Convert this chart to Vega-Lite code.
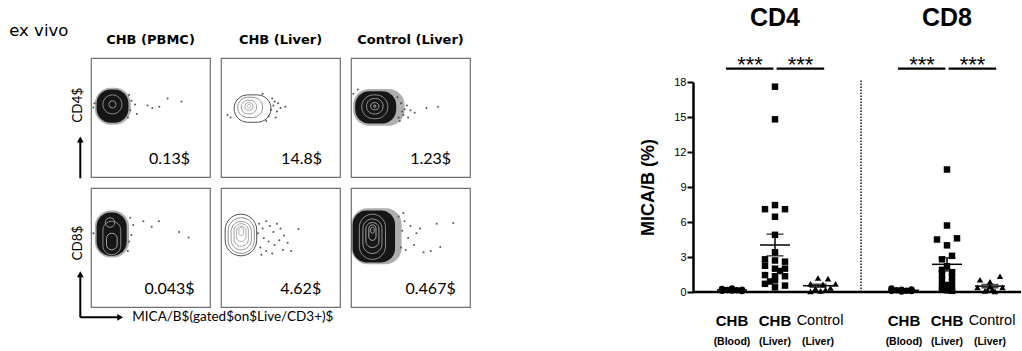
{
  "$schema": "https://vega.github.io/schema/vega-lite/v6.json",
  "padding": {"left": 8, "top": 6, "right": 0, "bottom": 0},
  "autosize": {"type": "pad"},
  "background": "white",
  "config": {
    "view": {"stroke": "#707070", "strokeWidth": 1.2},
    "axisY": {"titleFont": "Liberation Sans", "titleFontSize": 18, "titleFontWeight": "bold", "titleColor": "black", "titlePadding": 16,
      "labelFont": "Liberation Sans", "labelFontSize": 11, "labelColor": "black", "labelPadding": 1, "tickSize": 6, "tickWidth": 2,
      "tickColor": "black", "domainColor": "black", "domainWidth": 2.5, "grid": false}
  },
  "resolve": {"scale": {"shape": "independent", "stroke": "independent"}, "legend": {"shape": "independent", "stroke": "independent"}},
  "spacing": 168,
  "datasets": {
    "flow": [
      {"c": "CD4", "g": "CHB (PBMC)", "k": "panel", "x": 0.283},
      {"c": "CD4", "g": "CHB (Liver)", "k": "panel", "x": 0.30},
      {"c": "CD4", "g": "Control (Liver)", "k": "panel", "x": 0.324},
      {"c": "CD8", "g": "CHB (PBMC)", "k": "panel", "x": 0.283},
      {"c": "CD8", "g": "CHB (Liver)", "k": "panel", "x": 0.30},
      {"c": "CD8", "g": "Control (Liver)", "k": "panel", "x": 0.32},

      {"c": "CD4", "g": "CHB (PBMC)", "k": "pct", "x": 0.66, "y": 0.155, "t": "0.13$"},
      {"c": "CD4", "g": "CHB (Liver)", "k": "pct", "x": 0.677, "y": 0.155, "t": "14.8$"},
      {"c": "CD4", "g": "Control (Liver)", "k": "pct", "x": 0.669, "y": 0.155, "t": "1.23$"},
      {"c": "CD8", "g": "CHB (PBMC)", "k": "pct", "x": 0.66, "y": 0.15, "t": "0.043$"},
      {"c": "CD8", "g": "CHB (Liver)", "k": "pct", "x": 0.67, "y": 0.15, "t": "4.62$"},
      {"c": "CD8", "g": "Control (Liver)", "k": "pct", "x": 0.669, "y": 0.15, "t": "0.467$"},
      {"c": "CD4", "g": "CHB (PBMC)", "k": "ylab", "x": -0.107, "y": 0.603, "t": "CD4$"},
      {"c": "CD8", "g": "CHB (PBMC)", "k": "ylab", "x": -0.107, "y": 0.537, "t": "CD8$"},
      {"c": "CD4", "g": "CHB (PBMC)", "k": "note", "x": -0.687, "y": 1.189, "t": "ex vivo"},
      {"c": "CD8", "g": "CHB (PBMC)", "k": "xlab", "x": 0.347, "y": -0.087, "t": "MICA/B$(gated$on$Live/CD3+)$"},

      {"c": "CD4", "g": "CHB (PBMC)", "k": "halo", "x": 0.032, "x2": 0.335, "y": 0.44, "y2": 0.75},
      {"c": "CD4", "g": "Control (Liver)", "k": "halo", "x": 0.018, "x2": 0.45, "y": 0.43, "y2": 0.74},
      {"c": "CD8", "g": "CHB (PBMC)", "k": "halo", "x": 0.032, "x2": 0.32, "y": 0.415, "y2": 0.81},
      {"c": "CD8", "g": "Control (Liver)", "k": "halo", "x": 0.004, "x2": 0.425, "y": 0.36, "y2": 0.83},

      {"c": "CD4", "g": "CHB (PBMC)", "k": "mass", "x": 0.047, "x2": 0.315, "y": 0.455, "y2": 0.735},
      {"c": "CD4", "g": "Control (Liver)", "k": "mass", "x": 0.035, "x2": 0.38, "y": 0.45, "y2": 0.72},
      {"c": "CD8", "g": "CHB (PBMC)", "k": "mass", "x": 0.047, "x2": 0.30, "y": 0.43, "y2": 0.795},
      {"c": "CD8", "g": "Control (Liver)", "k": "mass", "x": 0.014, "x2": 0.37, "y": 0.375, "y2": 0.81},

      {"c": "CD4", "g": "CHB (PBMC)", "k": "ring", "lvl": 1, "x": 0.10, "x2": 0.26, "y": 0.53, "y2": 0.69},
      {"c": "CD4", "g": "CHB (PBMC)", "k": "ring", "lvl": 2, "x": 0.15, "x2": 0.21, "y": 0.58, "y2": 0.64},
      {"c": "CD4", "g": "CHB (Liver)", "k": "ring", "lvl": 0, "x": 0.11, "x2": 0.42, "y": 0.46, "y2": 0.69},
      {"c": "CD4", "g": "CHB (Liver)", "k": "ring", "lvl": 1, "x": 0.14, "x2": 0.35, "y": 0.50, "y2": 0.67},
      {"c": "CD4", "g": "CHB (Liver)", "k": "ring", "lvl": 2, "x": 0.17, "x2": 0.30, "y": 0.53, "y2": 0.645},
      {"c": "CD4", "g": "CHB (Liver)", "k": "ring", "lvl": 3, "x": 0.20, "x2": 0.27, "y": 0.56, "y2": 0.625},
      {"c": "CD4", "g": "CHB (Liver)", "k": "ring", "lvl": 4, "x": 0.22, "x2": 0.25, "y": 0.58, "y2": 0.61},
      {"c": "CD4", "g": "Control (Liver)", "k": "ring", "lvl": 1, "x": 0.09, "x2": 0.31, "y": 0.49, "y2": 0.69},
      {"c": "CD4", "g": "Control (Liver)", "k": "ring", "lvl": 2, "x": 0.13, "x2": 0.27, "y": 0.53, "y2": 0.66},
      {"c": "CD4", "g": "Control (Liver)", "k": "ring", "lvl": 3, "x": 0.165, "x2": 0.235, "y": 0.565, "y2": 0.625},
      {"c": "CD4", "g": "Control (Liver)", "k": "ring", "lvl": 4, "x": 0.19, "x2": 0.21, "y": 0.585, "y2": 0.605},
      {"c": "CD8", "g": "CHB (PBMC)", "k": "ring", "lvl": 1, "x": 0.10, "x2": 0.25, "y": 0.44, "y2": 0.72},
      {"c": "CD8", "g": "CHB (PBMC)", "k": "ring", "lvl": 2, "x": 0.12, "x2": 0.20, "y": 0.67, "y2": 0.75},
      {"c": "CD8", "g": "CHB (PBMC)", "k": "ring", "lvl": 3, "x": 0.13, "x2": 0.22, "y": 0.48, "y2": 0.62},
      {"c": "CD8", "g": "CHB (Liver)", "k": "ring", "lvl": 0, "x": 0.035, "x2": 0.30, "y": 0.43, "y2": 0.78},
      {"c": "CD8", "g": "CHB (Liver)", "k": "ring", "lvl": 1, "x": 0.06, "x2": 0.28, "y": 0.45, "y2": 0.75},
      {"c": "CD8", "g": "CHB (Liver)", "k": "ring", "lvl": 2, "x": 0.085, "x2": 0.255, "y": 0.48, "y2": 0.72},
      {"c": "CD8", "g": "CHB (Liver)", "k": "ring", "lvl": 3, "x": 0.11, "x2": 0.23, "y": 0.51, "y2": 0.70},
      {"c": "CD8", "g": "CHB (Liver)", "k": "ring", "lvl": 4, "x": 0.13, "x2": 0.21, "y": 0.55, "y2": 0.68},
      {"c": "CD8", "g": "CHB (Liver)", "k": "ring", "lvl": 4, "x": 0.15, "x2": 0.19, "y": 0.60, "y2": 0.67},
      {"c": "CD8", "g": "Control (Liver)", "k": "ring", "lvl": 1, "x": 0.07, "x2": 0.29, "y": 0.40, "y2": 0.78},
      {"c": "CD8", "g": "Control (Liver)", "k": "ring", "lvl": 2, "x": 0.10, "x2": 0.26, "y": 0.45, "y2": 0.74},
      {"c": "CD8", "g": "Control (Liver)", "k": "ring", "lvl": 3, "x": 0.125, "x2": 0.235, "y": 0.50, "y2": 0.71},
      {"c": "CD8", "g": "Control (Liver)", "k": "ring", "lvl": 4, "x": 0.15, "x2": 0.21, "y": 0.56, "y2": 0.69},
      {"c": "CD8", "g": "Control (Liver)", "k": "ring", "lvl": 4, "x": 0.165, "x2": 0.195, "y": 0.62, "y2": 0.67},

      {"c": "CD4", "g": "CHB (PBMC)", "k": "ev", "x": 0.37, "y": 0.61},
      {"c": "CD4", "g": "CHB (PBMC)", "k": "ev", "x": 0.475, "y": 0.60},
      {"c": "CD4", "g": "CHB (PBMC)", "k": "ev", "x": 0.515, "y": 0.58},
      {"c": "CD4", "g": "CHB (PBMC)", "k": "ev", "x": 0.574, "y": 0.59},
      {"c": "CD4", "g": "CHB (PBMC)", "k": "ev", "x": 0.644, "y": 0.66},
      {"c": "CD4", "g": "CHB (PBMC)", "k": "ev", "x": 0.76, "y": 0.635},
      {"c": "CD4", "g": "CHB (PBMC)", "k": "ev", "x": 0.31, "y": 0.50},
      {"c": "CD4", "g": "CHB (PBMC)", "k": "ev", "x": 0.02, "y": 0.585},
      {"c": "CD4", "g": "CHB (PBMC)", "k": "ev", "x": 0.385, "y": 0.53},
      {"c": "CD4", "g": "CHB (PBMC)", "k": "ev", "x": 0.33, "y": 0.56},
      {"c": "CD4", "g": "CHB (PBMC)", "k": "ev", "x": 0.34, "y": 0.64},
      {"c": "CD4", "g": "CHB (PBMC)", "k": "ev", "x": 0.32, "y": 0.69},
      {"c": "CD4", "g": "CHB (PBMC)", "k": "ev", "x": 0.03, "y": 0.62},

      {"c": "CD4", "g": "CHB (Liver)", "k": "ev", "x": 0.45, "y": 0.635},
      {"c": "CD4", "g": "CHB (Liver)", "k": "ev", "x": 0.50, "y": 0.58},
      {"c": "CD4", "g": "CHB (Liver)", "k": "ev", "x": 0.54, "y": 0.59},
      {"c": "CD4", "g": "CHB (Liver)", "k": "ev", "x": 0.42, "y": 0.565},
      {"c": "CD4", "g": "CHB (Liver)", "k": "ev", "x": 0.40, "y": 0.51},
      {"c": "CD4", "g": "CHB (Liver)", "k": "ev", "x": 0.055, "y": 0.52},
      {"c": "CD4", "g": "CHB (Liver)", "k": "ev", "x": 0.44, "y": 0.60},
      {"c": "CD4", "g": "CHB (Liver)", "k": "ev", "x": 0.47, "y": 0.55},
      {"c": "CD4", "g": "CHB (Liver)", "k": "ev", "x": 0.43, "y": 0.66},
      {"c": "CD4", "g": "CHB (Liver)", "k": "ev", "x": 0.48, "y": 0.62},
      {"c": "CD4", "g": "CHB (Liver)", "k": "ev", "x": 0.38, "y": 0.47},
      {"c": "CD4", "g": "CHB (Liver)", "k": "ev", "x": 0.08, "y": 0.50},
      {"c": "CD4", "g": "CHB (Liver)", "k": "ev", "x": 0.35, "y": 0.70},
      {"c": "CD4", "g": "CHB (Liver)", "k": "ev", "x": 0.46, "y": 0.50},

      {"c": "CD4", "g": "Control (Liver)", "k": "ev", "x": 0.634, "y": 0.58},
      {"c": "CD4", "g": "Control (Liver)", "k": "ev", "x": 0.73, "y": 0.59},
      {"c": "CD4", "g": "Control (Liver)", "k": "ev", "x": 0.535, "y": 0.54},
      {"c": "CD4", "g": "Control (Liver)", "k": "ev", "x": 0.48, "y": 0.50},
      {"c": "CD4", "g": "Control (Liver)", "k": "ev", "x": 0.057, "y": 0.735},
      {"c": "CD4", "g": "Control (Liver)", "k": "ev", "x": 0.42, "y": 0.62},
      {"c": "CD4", "g": "Control (Liver)", "k": "ev", "x": 0.45, "y": 0.57},
      {"c": "CD4", "g": "Control (Liver)", "k": "ev", "x": 0.40, "y": 0.50},
      {"c": "CD4", "g": "Control (Liver)", "k": "ev", "x": 0.44, "y": 0.52},
      {"c": "CD4", "g": "Control (Liver)", "k": "ev", "x": 0.50, "y": 0.56},
      {"c": "CD4", "g": "Control (Liver)", "k": "ev", "x": 0.39, "y": 0.67},
      {"c": "CD4", "g": "Control (Liver)", "k": "ev", "x": 0.02, "y": 0.70},
      {"c": "CD4", "g": "Control (Liver)", "k": "ev", "x": 0.47, "y": 0.60},
      {"c": "CD4", "g": "Control (Liver)", "k": "ev", "x": 0.41, "y": 0.47},
      {"c": "CD4", "g": "Control (Liver)", "k": "ev", "x": 0.43, "y": 0.55},

      {"c": "CD8", "g": "CHB (PBMC)", "k": "ev", "x": 0.44, "y": 0.72},
      {"c": "CD8", "g": "CHB (PBMC)", "k": "ev", "x": 0.51, "y": 0.675},
      {"c": "CD8", "g": "CHB (PBMC)", "k": "ev", "x": 0.57, "y": 0.72},
      {"c": "CD8", "g": "CHB (PBMC)", "k": "ev", "x": 0.74, "y": 0.63},
      {"c": "CD8", "g": "CHB (PBMC)", "k": "ev", "x": 0.82, "y": 0.585},
      {"c": "CD8", "g": "CHB (PBMC)", "k": "ev", "x": 0.355, "y": 0.69},
      {"c": "CD8", "g": "CHB (PBMC)", "k": "ev", "x": 0.34, "y": 0.605},
      {"c": "CD8", "g": "CHB (PBMC)", "k": "ev", "x": 0.32, "y": 0.55},
      {"c": "CD8", "g": "CHB (PBMC)", "k": "ev", "x": 0.33, "y": 0.75},
      {"c": "CD8", "g": "CHB (PBMC)", "k": "ev", "x": 0.31, "y": 0.47},
      {"c": "CD8", "g": "CHB (PBMC)", "k": "ev", "x": 0.02, "y": 0.62},

      {"c": "CD8", "g": "CHB (Liver)", "k": "ev", "x": 0.32, "y": 0.70},
      {"c": "CD8", "g": "CHB (Liver)", "k": "ev", "x": 0.35, "y": 0.66},
      {"c": "CD8", "g": "CHB (Liver)", "k": "ev", "x": 0.38, "y": 0.72},
      {"c": "CD8", "g": "CHB (Liver)", "k": "ev", "x": 0.41, "y": 0.68},
      {"c": "CD8", "g": "CHB (Liver)", "k": "ev", "x": 0.44, "y": 0.63},
      {"c": "CD8", "g": "CHB (Liver)", "k": "ev", "x": 0.47, "y": 0.70},
      {"c": "CD8", "g": "CHB (Liver)", "k": "ev", "x": 0.50, "y": 0.66},
      {"c": "CD8", "g": "CHB (Liver)", "k": "ev", "x": 0.53, "y": 0.60},
      {"c": "CD8", "g": "CHB (Liver)", "k": "ev", "x": 0.36, "y": 0.58},
      {"c": "CD8", "g": "CHB (Liver)", "k": "ev", "x": 0.40, "y": 0.55},
      {"c": "CD8", "g": "CHB (Liver)", "k": "ev", "x": 0.45, "y": 0.52},
      {"c": "CD8", "g": "CHB (Liver)", "k": "ev", "x": 0.49, "y": 0.56},
      {"c": "CD8", "g": "CHB (Liver)", "k": "ev", "x": 0.33, "y": 0.50},
      {"c": "CD8", "g": "CHB (Liver)", "k": "ev", "x": 0.38, "y": 0.47},
      {"c": "CD8", "g": "CHB (Liver)", "k": "ev", "x": 0.43, "y": 0.45},
      {"c": "CD8", "g": "CHB (Liver)", "k": "ev", "x": 0.52, "y": 0.48},
      {"c": "CD8", "g": "CHB (Liver)", "k": "ev", "x": 0.65, "y": 0.655},
      {"c": "CD8", "g": "CHB (Liver)", "k": "ev", "x": 0.59, "y": 0.47},
      {"c": "CD8", "g": "CHB (Liver)", "k": "ev", "x": 0.56, "y": 0.54},
      {"c": "CD8", "g": "CHB (Liver)", "k": "ev", "x": 0.31, "y": 0.62},
      {"c": "CD8", "g": "CHB (Liver)", "k": "ev", "x": 0.34, "y": 0.44},

      {"c": "CD8", "g": "Control (Liver)", "k": "ev", "x": 0.72, "y": 0.70},
      {"c": "CD8", "g": "Control (Liver)", "k": "ev", "x": 0.86, "y": 0.705},
      {"c": "CD8", "g": "Control (Liver)", "k": "ev", "x": 0.75, "y": 0.505},
      {"c": "CD8", "g": "Control (Liver)", "k": "ev", "x": 0.67, "y": 0.47},
      {"c": "CD8", "g": "Control (Liver)", "k": "ev", "x": 0.61, "y": 0.46},
      {"c": "CD8", "g": "Control (Liver)", "k": "ev", "x": 0.45, "y": 0.72},
      {"c": "CD8", "g": "Control (Liver)", "k": "ev", "x": 0.50, "y": 0.68},
      {"c": "CD8", "g": "Control (Liver)", "k": "ev", "x": 0.55, "y": 0.62},
      {"c": "CD8", "g": "Control (Liver)", "k": "ev", "x": 0.48, "y": 0.58},
      {"c": "CD8", "g": "Control (Liver)", "k": "ev", "x": 0.43, "y": 0.64},
      {"c": "CD8", "g": "Control (Liver)", "k": "ev", "x": 0.53, "y": 0.52},
      {"c": "CD8", "g": "Control (Liver)", "k": "ev", "x": 0.58, "y": 0.66},
      {"c": "CD8", "g": "Control (Liver)", "k": "ev", "x": 0.42, "y": 0.50},
      {"c": "CD8", "g": "Control (Liver)", "k": "ev", "x": 0.46, "y": 0.48},
      {"c": "CD8", "g": "Control (Liver)", "k": "ev", "x": 0.40, "y": 0.76},
      {"c": "CD8", "g": "Control (Liver)", "k": "ev", "x": 0.44, "y": 0.79},

      {"c": "CD4", "g": "CHB (PBMC)", "k": "arrow", "x": -0.09, "y": -0.011, "x2": -0.09, "y2": 0.32},
      {"c": "CD8", "g": "CHB (PBMC)", "k": "arrow", "x": -0.09, "y": -0.087, "x2": -0.09, "y2": 0.28},
      {"c": "CD8", "g": "CHB (PBMC)", "k": "arrow", "x": -0.09, "y": -0.087, "x2": 0.25, "y2": -0.087},
      {"c": "CD4", "g": "CHB (PBMC)", "k": "head", "x": -0.09, "y": 0.315, "dir": "up"},
      {"c": "CD8", "g": "CHB (PBMC)", "k": "head", "x": -0.09, "y": 0.275, "dir": "up"},
      {"c": "CD8", "g": "CHB (PBMC)", "k": "head", "x": 0.245, "y": -0.087, "dir": "right"}
    ],
    "mica": [
      {"set": "CD4 Blood", "v": 0.25, "lane": -2},
      {"set": "CD4 Blood", "v": 0.1, "lane": -2},
      {"set": "CD4 Blood", "v": 0.3, "lane": 0},
      {"set": "CD4 Blood", "v": 0.12, "lane": 0},
      {"set": "CD4 Blood", "v": 0.2, "lane": 2},
      {"set": "CD4 Blood", "v": 0.08, "lane": 2},
      {"set": "CD4 Blood", "v": 0.18, "lane": -1},
      {"set": "CD4 Blood", "v": 0.15, "lane": 1},
      {"set": "CD4 Liver", "v": 17.6, "lane": 0},
      {"set": "CD4 Liver", "v": 14.8, "lane": 0},
      {"set": "CD4 Liver", "v": 7.1, "lane": -2},
      {"set": "CD4 Liver", "v": 7.45, "lane": 0},
      {"set": "CD4 Liver", "v": 7.1, "lane": 2},
      {"set": "CD4 Liver", "v": 6.45, "lane": 0},
      {"set": "CD4 Liver", "v": 4.9, "lane": 0},
      {"set": "CD4 Liver", "v": 3.4, "lane": 0},
      {"set": "CD4 Liver", "v": 2.8, "lane": -2},
      {"set": "CD4 Liver", "v": 2.7, "lane": 0},
      {"set": "CD4 Liver", "v": 2.6, "lane": 2},
      {"set": "CD4 Liver", "v": 2.25, "lane": -2},
      {"set": "CD4 Liver", "v": 2.0, "lane": 0},
      {"set": "CD4 Liver", "v": 2.0, "lane": 2},
      {"set": "CD4 Liver", "v": 1.45, "lane": -2},
      {"set": "CD4 Liver", "v": 1.35, "lane": 0},
      {"set": "CD4 Liver", "v": 1.35, "lane": 2},
      {"set": "CD4 Liver", "v": 1.0, "lane": 0},
      {"set": "CD4 Liver", "v": 0.7, "lane": -2},
      {"set": "CD4 Liver", "v": 0.4, "lane": 0},
      {"set": "CD4 Liver", "v": 0.55, "lane": 2},
      {"set": "CD4 Liver", "v": 0.9, "lane": -1},
      {"set": "CD4 Liver", "v": 1.8, "lane": 1},
      {"set": "CD4 Control", "v": 1.2, "lane": 0},
      {"set": "CD4 Control", "v": 1.15, "lane": 2},
      {"set": "CD4 Control", "v": 0.7, "lane": -1.5},
      {"set": "CD4 Control", "v": 0.65, "lane": 1},
      {"set": "CD4 Control", "v": 0.7, "lane": 3.5},
      {"set": "CD4 Control", "v": 0.3, "lane": -0.5},
      {"set": "CD4 Control", "v": 0.1, "lane": 0.5},
      {"set": "CD4 Control", "v": 0.2, "lane": 1.5},
      {"set": "CD4 Control", "v": 0.35, "lane": 2.5},
      {"set": "CD4 Control", "v": 0.05, "lane": -1.5},
      {"set": "CD8 Blood", "v": 0.3, "lane": -2.5},
      {"set": "CD8 Blood", "v": 0.1, "lane": -2.5},
      {"set": "CD8 Blood", "v": 0.15, "lane": -1.5},
      {"set": "CD8 Blood", "v": 0.2, "lane": -0.5},
      {"set": "CD8 Blood", "v": 0.05, "lane": -0.5},
      {"set": "CD8 Blood", "v": 0.1, "lane": 0.5},
      {"set": "CD8 Blood", "v": 0.22, "lane": 1.5},
      {"set": "CD8 Blood", "v": 0.08, "lane": 1.5},
      {"set": "CD8 Liver", "v": 10.5, "lane": 0},
      {"set": "CD8 Liver", "v": 5.7, "lane": 0},
      {"set": "CD8 Liver", "v": 4.5, "lane": -2},
      {"set": "CD8 Liver", "v": 4.6, "lane": 2},
      {"set": "CD8 Liver", "v": 4.0, "lane": 0},
      {"set": "CD8 Liver", "v": 3.1, "lane": 1},
      {"set": "CD8 Liver", "v": 2.8, "lane": -1},
      {"set": "CD8 Liver", "v": 2.2, "lane": 0},
      {"set": "CD8 Liver", "v": 1.9, "lane": -1},
      {"set": "CD8 Liver", "v": 1.7, "lane": 1},
      {"set": "CD8 Liver", "v": 1.5, "lane": -1},
      {"set": "CD8 Liver", "v": 1.3, "lane": 1},
      {"set": "CD8 Liver", "v": 1.0, "lane": -1},
      {"set": "CD8 Liver", "v": 0.8, "lane": 1},
      {"set": "CD8 Liver", "v": 0.6, "lane": 0},
      {"set": "CD8 Liver", "v": 0.5, "lane": -1},
      {"set": "CD8 Liver", "v": 0.3, "lane": 1},
      {"set": "CD8 Liver", "v": 0.2, "lane": -1},
      {"set": "CD8 Liver", "v": 0.15, "lane": 0},
      {"set": "CD8 Liver", "v": 0.1, "lane": 1},
      {"set": "CD8 Control", "v": 1.05, "lane": -2},
      {"set": "CD8 Control", "v": 0.88, "lane": 0},
      {"set": "CD8 Control", "v": 1.35, "lane": 2},
      {"set": "CD8 Control", "v": 0.4, "lane": -2.5},
      {"set": "CD8 Control", "v": 0.4, "lane": 2.5},
      {"set": "CD8 Control", "v": 0.45, "lane": 0},
      {"set": "CD8 Control", "v": 0.1, "lane": -1},
      {"set": "CD8 Control", "v": 0.05, "lane": 1},
      {"set": "CD8 Control", "v": 0.2, "lane": 0.5},
      {"set": "CD8 Control", "v": 0.15, "lane": -0.5}
    ],
    "sets": [
      {"set": "CD4 Blood", "l1": "CHB", "l2": "(Blood)"},
      {"set": "CD4 Liver", "l1": "CHB", "l2": "(Liver)"},
      {"set": "CD4 Control", "l1": "Control", "l2": "(Liver)"},
      {"set": "CD8 Blood", "l1": "CHB", "l2": "(Blood)"},
      {"set": "CD8 Liver", "l1": "CHB", "l2": "(Liver)"},
      {"set": "CD8 Control", "l1": "Control", "l2": "(Liver)"}
    ]
  },
  "hconcat": [
    {
      "data": {"name": "flow"},
      "facet": {
        "row": {"field": "c", "type": "nominal", "sort": ["CD4", "CD8"], "header": null},
        "column": {"field": "g", "type": "nominal", "sort": ["CHB (PBMC)", "CHB (Liver)", "Control (Liver)"], "title": null,
          "header": {"labelFont": "DejaVu Sans", "labelFontWeight": "bold", "labelFontSize": 13, "labelColor": "black", "labelPadding": 11}}
      },
      "spacing": {"row": 11, "column": 11},
      "bounds": "flush",
      "spec": {
        "width": 119,
        "height": 119,
        "encoding": {
          "x": {"field": "x", "type": "quantitative", "scale": {"domain": [0, 1], "nice": false, "zero": false}, "axis": null},
          "y": {"field": "y", "type": "quantitative", "scale": {"domain": [0, 1], "nice": false, "zero": false}, "axis": null}
        },
        "layer": [
          {"transform": [{"filter": "datum.k == 'halo'"}],
           "mark": {"type": "rect", "color": "#161616", "opacity": 0.35, "cornerRadius": 16},
           "encoding": {"x2": {"field": "x2"}, "y2": {"field": "y2"}}},
          {"transform": [{"filter": "datum.k == 'mass'"}],
           "mark": {"type": "rect", "color": "#161616", "cornerRadius": 14},
           "encoding": {"x2": {"field": "x2"}, "y2": {"field": "y2"}}},
          {"transform": [{"filter": "datum.k == 'ring'"}],
           "mark": {"type": "rect", "fill": "white", "fillOpacity": 0, "strokeWidth": 1, "cornerRadius": 40},
           "encoding": {"x2": {"field": "x2"}, "y2": {"field": "y2"},
             "stroke": {"field": "lvl", "type": "ordinal", "scale": {"domain": [0, 1, 2, 3, 4], "range": ["#505050", "#8c8c8c", "#999999", "#a3a3a3", "#adadad"]}, "legend": null}}},
          {"transform": [{"filter": "datum.k == 'ev'"}],
           "mark": {"type": "circle", "size": 4, "color": "#444444", "opacity": 0.9}},
          {"transform": [{"filter": "datum.k == 'panel'"}],
           "mark": {"type": "rect", "fill": "white", "fillOpacity": 0, "stroke": "#b0b0b0", "strokeWidth": 2},
           "encoding": {"x2": {"datum": 0.969}, "y": {"datum": 0.04}, "y2": {"datum": 0.972}}},
          {"transform": [{"filter": "datum.k == 'pct'"}],
           "mark": {"type": "text", "font": "Lato", "fontSize": 16, "color": "black"},
           "encoding": {"text": {"field": "t", "type": "nominal"}}},
          {"transform": [{"filter": "datum.k == 'ylab'"}],
           "mark": {"type": "text", "angle": 270, "font": "Lato", "fontSize": 13.5, "baseline": "middle", "color": "black"},
           "encoding": {"text": {"field": "t", "type": "nominal"}}},
          {"transform": [{"filter": "datum.k == 'note'"}],
           "mark": {"type": "text", "font": "DejaVu Sans", "fontSize": 16.5, "align": "left", "baseline": "alphabetic", "color": "black"},
           "encoding": {"text": {"field": "t", "type": "nominal"}}},
          {"transform": [{"filter": "datum.k == 'xlab'"}],
           "mark": {"type": "text", "font": "Lato", "fontSize": 13.5, "align": "left", "baseline": "middle", "color": "black"},
           "encoding": {"text": {"field": "t", "type": "nominal"}}},
          {"transform": [{"filter": "datum.k == 'arrow'"}],
           "mark": {"type": "rule", "strokeWidth": 2, "color": "black"},
           "encoding": {"x2": {"field": "x2"}, "y2": {"field": "y2"}}},
          {"transform": [{"filter": "datum.k == 'head'"}],
           "mark": {"type": "point", "filled": true, "color": "black", "size": 45, "opacity": 1},
           "encoding": {"shape": {"field": "dir", "type": "nominal", "scale": {"domain": ["up", "right"], "range": ["triangle-up", "triangle-right"]}, "legend": null}}}
        ]
      }
    },
    {
      "width": 328,
      "height": 234,
      "view": {"stroke": null},
      "layer": [
        {"data": {"values": [{"set": "gap"}]},
         "mark": {"type": "rule", "strokeDash": [1.5, 1.5], "strokeWidth": 1.4, "color": "black"},
         "encoding": {
           "x": {"field": "set", "type": "nominal", "scale": {"type": "point", "padding": 0, "domain": ["CD4 Blood", "CD4 Liver", "CD4 Control", "gap", "CD8 Blood", "CD8 Liver", "CD8 Control"], "range": [39, 297]}, "axis": null},
           "y": {"datum": 0, "type": "quantitative", "axis": {"values": [0, 3, 6, 9, 12, 15, 18], "title": "MICA/B (%)"}}, "y2": {"datum": 18.15}}},
        {"data": {"values": [{}]},
         "mark": {"type": "rule", "strokeWidth": 2.5, "color": "black"},
         "encoding": {"y": {"datum": 0, "type": "quantitative", "axis": {"values": [0, 3, 6, 9, 12, 15, 18], "title": "MICA/B (%)"}}}},
        {"data": {"name": "mica"},
         "mark": {"type": "point", "filled": true, "opacity": 1, "color": "black", "size": 42},
         "encoding": {
           "x": {"field": "set", "type": "nominal", "scale": {"type": "point", "padding": 0, "domain": ["CD4 Blood", "CD4 Liver", "CD4 Control", "gap", "CD8 Blood", "CD8 Liver", "CD8 Control"], "range": [39, 297]}, "axis": null},
           "xOffset": {"field": "lane", "type": "quantitative", "scale": {"domain": [-2, 2], "range": [-10, 10]}},
           "y": {"field": "v", "type": "quantitative", "scale": {"domain": [0, 18], "nice": false, "range": [234, 24]}, "axis": {"values": [0, 3, 6, 9, 12, 15, 18], "title": "MICA/B (%)"}},
           "shape": {"field": "set", "type": "nominal", "scale": {"domain": ["CD4 Blood", "CD4 Liver", "CD4 Control", "CD8 Blood", "CD8 Liver", "CD8 Control"], "range": ["circle", "square", "triangle-up", "circle", "square", "triangle-up"]}, "legend": null}
         }},
        {"data": {"name": "mica"},
         "mark": {"type": "errorbar", "extent": "stderr", "color": "black", "thickness": 1.5, "ticks": {"size": 17, "thickness": 1.5, "color": "black"}},
         "encoding": {
           "x": {"field": "set", "type": "nominal", "scale": {"type": "point", "padding": 0, "domain": ["CD4 Blood", "CD4 Liver", "CD4 Control", "gap", "CD8 Blood", "CD8 Liver", "CD8 Control"], "range": [39, 297]}, "axis": null},
           "y": {"field": "v", "type": "quantitative", "axis": {"values": [0, 3, 6, 9, 12, 15, 18], "title": "MICA/B (%)"}}}},
        {"data": {"name": "mica"},
         "mark": {"type": "tick", "color": "black", "thickness": 1.5, "size": 30},
         "encoding": {
           "x": {"field": "set", "type": "nominal", "scale": {"type": "point", "padding": 0, "domain": ["CD4 Blood", "CD4 Liver", "CD4 Control", "gap", "CD8 Blood", "CD8 Liver", "CD8 Control"], "range": [39, 297]}, "axis": null},
           "y": {"aggregate": "mean", "field": "v", "type": "quantitative", "axis": {"values": [0, 3, 6, 9, 12, 15, 18], "title": "MICA/B (%)"}}}},
        {"data": {"values": [{"set": "CD4 Liver", "t": "CD4"}, {"set": "CD8 Liver", "t": "CD8"}]},
         "mark": {"type": "text", "font": "Liberation Sans", "fontSize": 25, "fontWeight": "bold", "baseline": "middle", "color": "black"},
         "encoding": {
           "x": {"field": "set", "type": "nominal", "scale": {"type": "point", "padding": 0, "domain": ["CD4 Blood", "CD4 Liver", "CD4 Control", "gap", "CD8 Blood", "CD8 Liver", "CD8 Control"], "range": [39, 297]}, "axis": null},
           "y": {"datum": 23.47, "axis": {"values": [0, 3, 6, 9, 12, 15, 18], "title": "MICA/B (%)"}}, "text": {"field": "t"}}},
        {"data": {"values": [{"a": "CD4 Blood", "b": "CD4 Liver"}, {"a": "CD8 Blood", "b": "CD8 Liver"}]},
         "mark": {"type": "rule", "strokeWidth": 2.2, "color": "black", "xOffset": -6, "x2Offset": -1.6},
         "encoding": {
           "x": {"field": "a", "type": "nominal", "scale": {"type": "point", "padding": 0, "domain": ["CD4 Blood", "CD4 Liver", "CD4 Control", "gap", "CD8 Blood", "CD8 Liver", "CD8 Control"], "range": [39, 297]}, "axis": null},
           "x2": {"field": "b"}, "y": {"datum": 19.15, "axis": {"values": [0, 3, 6, 9, 12, 15, 18], "title": "MICA/B (%)"}}}},
        {"data": {"values": [{"a": "CD4 Liver", "b": "CD4 Control"}, {"a": "CD8 Liver", "b": "CD8 Control"}]},
         "mark": {"type": "rule", "strokeWidth": 2.2, "color": "black", "xOffset": 1.6, "x2Offset": 6.2},
         "encoding": {
           "x": {"field": "a", "type": "nominal", "scale": {"type": "point", "padding": 0, "domain": ["CD4 Blood", "CD4 Liver", "CD4 Control", "gap", "CD8 Blood", "CD8 Liver", "CD8 Control"], "range": [39, 297]}, "axis": null},
           "x2": {"field": "b"}, "y": {"datum": 19.15, "axis": {"values": [0, 3, 6, 9, 12, 15, 18], "title": "MICA/B (%)"}}}},
        {"data": {"values": [{"a": "CD4 Blood"}, {"a": "CD8 Blood"}]},
         "mark": {"type": "text", "text": "***", "font": "Liberation Sans", "fontSize": 22, "baseline": "alphabetic", "dx": 18, "color": "black"},
         "encoding": {
           "x": {"field": "a", "type": "nominal", "scale": {"type": "point", "padding": 0, "domain": ["CD4 Blood", "CD4 Liver", "CD4 Control", "gap", "CD8 Blood", "CD8 Liver", "CD8 Control"], "range": [39, 297]}, "axis": null},
           "y": {"datum": 18.86, "axis": {"values": [0, 3, 6, 9, 12, 15, 18], "title": "MICA/B (%)"}}}},
        {"data": {"values": [{"a": "CD4 Liver"}, {"a": "CD8 Liver"}]},
         "mark": {"type": "text", "text": "***", "font": "Liberation Sans", "fontSize": 22, "baseline": "alphabetic", "dx": 25.5, "color": "black"},
         "encoding": {
           "x": {"field": "a", "type": "nominal", "scale": {"type": "point", "padding": 0, "domain": ["CD4 Blood", "CD4 Liver", "CD4 Control", "gap", "CD8 Blood", "CD8 Liver", "CD8 Control"], "range": [39, 297]}, "axis": null},
           "y": {"datum": 18.86, "axis": {"values": [0, 3, 6, 9, 12, 15, 18], "title": "MICA/B (%)"}}}},
        {"data": {"name": "sets"},
         "transform": [{"filter": "datum.l1 == 'CHB'"}],
         "mark": {"type": "text", "font": "Liberation Sans", "fontSize": 15, "fontWeight": "bold", "baseline": "middle", "color": "black"},
         "encoding": {
           "x": {"field": "set", "type": "nominal", "scale": {"type": "point", "padding": 0, "domain": ["CD4 Blood", "CD4 Liver", "CD4 Control", "gap", "CD8 Blood", "CD8 Liver", "CD8 Control"], "range": [39, 297]}, "axis": null},
           "y": {"datum": -2.46, "axis": {"values": [0, 3, 6, 9, 12, 15, 18], "title": "MICA/B (%)"}}, "text": {"field": "l1"}}},
        {"data": {"name": "sets"},
         "transform": [{"filter": "datum.l1 == 'Control'"}],
         "mark": {"type": "text", "font": "Liberation Sans", "fontSize": 14.5, "baseline": "middle", "dx": 2, "color": "black"},
         "encoding": {
           "x": {"field": "set", "type": "nominal", "scale": {"type": "point", "padding": 0, "domain": ["CD4 Blood", "CD4 Liver", "CD4 Control", "gap", "CD8 Blood", "CD8 Liver", "CD8 Control"], "range": [39, 297]}, "axis": null},
           "y": {"datum": -2.46, "axis": {"values": [0, 3, 6, 9, 12, 15, 18], "title": "MICA/B (%)"}}, "text": {"field": "l1"}}},
        {"data": {"name": "sets"},
         "mark": {"type": "text", "font": "Liberation Sans", "fontSize": 10.5, "fontWeight": "bold", "baseline": "middle", "color": "black"},
         "encoding": {
           "x": {"field": "set", "type": "nominal", "scale": {"type": "point", "padding": 0, "domain": ["CD4 Blood", "CD4 Liver", "CD4 Control", "gap", "CD8 Blood", "CD8 Liver", "CD8 Control"], "range": [39, 297]}, "axis": null},
           "y": {"datum": -4.31, "axis": {"values": [0, 3, 6, 9, 12, 15, 18], "title": "MICA/B (%)"}}, "text": {"field": "l2"}}}
      ]
    }
  ]
}
